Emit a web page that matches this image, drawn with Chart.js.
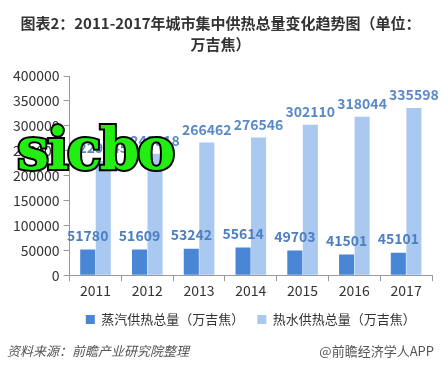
<!DOCTYPE html>
<html>
<head>
<meta charset="utf-8">
<script src="https://cdn.jsdelivr.net/npm/chart.js"></script>
<style>
  body { margin: 0; background: #fff; }
  #wrap { position: relative; width: 448px; height: 370px; }
  .foot { position: absolute; top: 341px; font: 13px "Noto Sans CJK SC", sans-serif; color: #555; }
  #src { left: 7px; font-style: italic; }
  #app { right: 14px; }
  #stamp { position: absolute; left: 17px; top: 115px; font: bold 57px "DejaVu Serif", serif;
           color: #22ee11; -webkit-text-stroke: 4px #000; paint-order: stroke fill; letter-spacing: -2px; }
</style>
</head>
<body>
<div id="wrap">
  <canvas id="heatChart" width="448" height="370"></canvas>
  <div class="foot" id="src">资料来源：前瞻产业研究院整理</div>
  <div class="foot" id="app">@前瞻经济学人APP</div>
  <div id="stamp">sicbo</div>
</div>
<script>
// Data
const years = ['2011', '2012', '2013', '2014', '2015', '2016', '2017'];
const steamData = [51780, 51609, 53242, 55614, 49703, 41501, 45101];
const hotWaterData = [229245, 243818, 266462, 276546, 302110, 318044, 335598];
const yTicks = [0, 50000, 100000, 150000, 200000, 250000, 300000, 350000, 400000];

// draw the value above each bar
const valueLabels = {
    id: 'valueLabels',
    afterDatasetsDraw(chart) {
        const ctx = chart.ctx;
        ctx.save();
        ctx.font = 'bold 14px "Noto Sans CJK SC", sans-serif';
        ctx.textAlign = 'center';
        ctx.textBaseline = 'bottom';
        chart.data.datasets.forEach((ds, i) => {
            chart.getDatasetMeta(i).data.forEach((bar, j) => {
                ctx.fillStyle = i === 0 ? '#4d7fc0' : '#5a8ac6';
                const y = i === 0 ? bar.y - 7 : bar.y - 6;
                ctx.fillText(ds.data[j], bar.x, y);
            });
        });
        ctx.restore();
    }
};

const ctx = document.getElementById('heatChart').getContext('2d');
new Chart(ctx, {
    type: 'bar',
    data: {
        labels: years,
        datasets: [{
            label: '蒸汽供热总量（万吉焦）',
            data: steamData,
            backgroundColor: '#4a86d6'
        }, {
            label: '热水供热总量（万吉焦）',
            data: hotWaterData,
            backgroundColor: '#a9c9f1'
        }]
    },
    options: {
        responsive: false,
        animation: false,
        layout: { padding: { left: 9, right: 16, top: 0, bottom: 34 } },
        datasets: { bar: { categoryPercentage: 0.6, barPercentage: 0.97 } },
        scales: {
            x: {
                grid: { drawOnChartArea: false, tickLength: 6, color: '#999' },
                border: { color: '#999' },
                ticks: { color: '#333', font: { size: 14, family: 'Noto Sans CJK SC' }, padding: 1 }
            },
            y: {
                min: 0,
                max: 400000,
                afterBuildTicks: (axis) => { axis.ticks = yTicks.map(v => ({ value: v })); },
                grid: { drawOnChartArea: false, tickLength: 6, color: '#999' },
                border: { color: '#999' },
                ticks: {
                    color: '#333', font: { size: 14, family: 'Noto Sans CJK SC' }, padding: 4,
                    callback: (v) => String(v)
                }
            }
        },
        plugins: {
            title: {
                display: true,
                text: ['图表2：2011-2017年城市集中供热总量变化趋势图（单位：', '万吉焦）'],
                color: '#333',
                font: { size: 15, weight: 'bold', family: 'Noto Sans CJK SC', lineHeight: 1.4 },
                padding: { top: 13, bottom: 21 }
            },
            legend: {
                position: 'bottom',
                fullSize: false,
                labels: {
                    boxWidth: 9, boxHeight: 9, color: '#333', padding: 13,
                    font: { size: 13, family: 'Noto Sans CJK SC' }
                }
            },
            tooltip: { enabled: false }
        }
    },
    plugins: [valueLabels]
});
</script>
</body>
</html>
